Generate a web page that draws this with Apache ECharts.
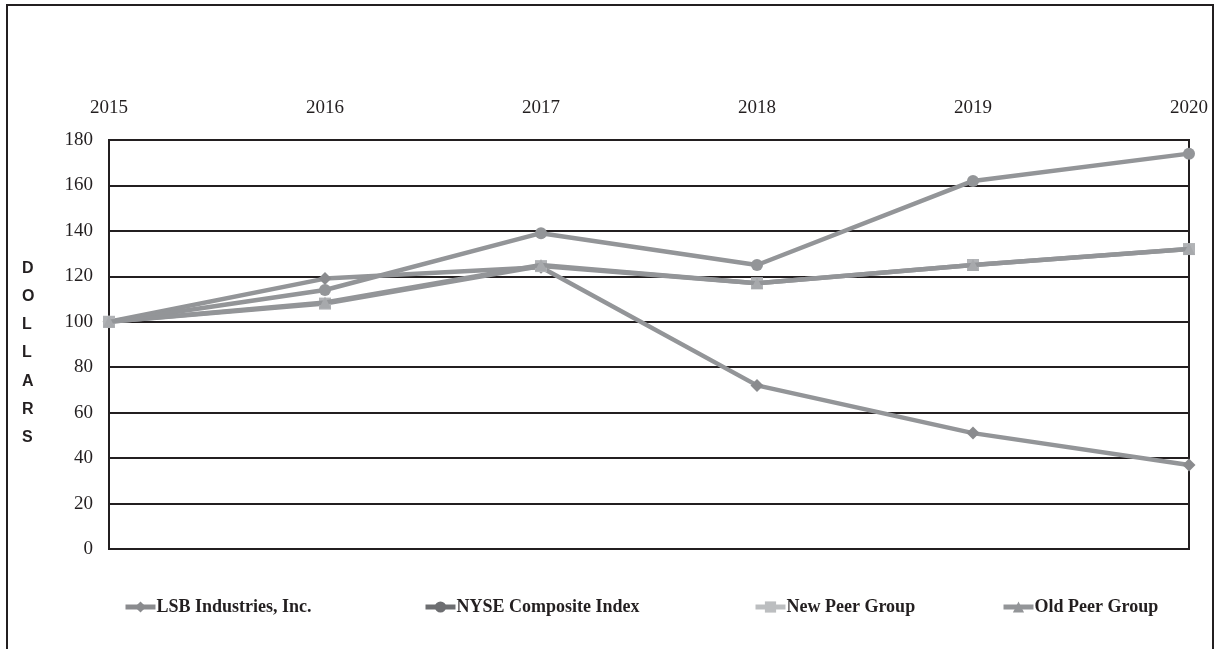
<!DOCTYPE html>
<html>
<head>
<meta charset="utf-8">
<script src="https://cdn.jsdelivr.net/npm/echarts@6/dist/echarts.min.js"></script>
<style>
html,body{margin:0;padding:0;background:#fff;}
#c{width:1217px;height:649px;}
</style>
</head>
<body>
<div id="c"></div>
<script>
var years = ['2015', '2016', '2017', '2018', '2019', '2020'];
var lsb = [100, 119, 124, 72, 51, 37];
var nyse = [100, 114, 139, 125, 162, 174];
var newPeer = [100, 108, 124.5, 117, 125, 132];
var oldPeer = [100, 108.5, 125, 117, 125, 132];
var yTicks = [0, 20, 40, 60, 80, 100, 120, 140, 160, 180];
var names = ['LSB Industries, Inc.', 'NYSE Composite Index', 'New Peer Group', 'Old Peer Group'];

var lineGray = '#939598';
var chart = echarts.init(document.getElementById('c'));

function mkSeries(name, data, symbol, symColor, size, z) {
  return {
    name: name, type: 'line', data: data,
    symbol: symbol, symbolSize: size, showSymbol: true,
    lineStyle: { color: lineGray, width: 4.5 },
    itemStyle: { color: symColor },
    z: z, animation: false
  };
}

function mkLegend(i, left, symColor, lineColor) {
  return {
    left: left, top: 593, itemWidth: 30, itemHeight: 14, itemGap: 0,
    data: [{ name: names[i], itemStyle: { color: symColor }, lineStyle: { color: lineColor, width: 5 } }],
    textStyle: { fontFamily: 'Liberation Serif', fontWeight: 'bold', fontSize: 18, color: '#231f20', padding: [0, 0, 0, -4] },
    selectedMode: false
  };
}

chart.setOption({
  animation: false,
  backgroundColor: '#fff',
  graphic: [
    { type: 'rect', shape: { x: 7, y: 5, width: 1206, height: 700 }, style: { fill: 'none', stroke: '#231f20', lineWidth: 2 }, silent: true },
    { type: 'text', left: 22, top: 254, style: { text: 'D\nO\nL\nL\nA\nR\nS', font: 'bold 16px "Liberation Sans"', fill: '#231f20', lineHeight: 28.3, align: 'center' } }
  ],
  grid: { left: 109, right: 28, top: 140, bottom: 100, show: true, borderColor: '#231f20', borderWidth: 2 },
  legend: [
    mkLegend(0, 118, '#8a8b8e', '#8a8b8e'),
    mkLegend(1, 418, '#6d6e71', '#6d6e71'),
    mkLegend(2, 748, '#bcbec0', '#bcbec0'),
    mkLegend(3, 996, '#939598', '#939598')
  ],
  xAxis: {
    type: 'category', data: years, position: 'top', boundaryGap: false,
    axisLine: { show: false }, axisTick: { show: false },
    axisLabel: { margin: 22, fontFamily: 'Liberation Serif', fontSize: 19, color: '#231f20' },
    splitLine: { show: false }
  },
  yAxis: {
    type: 'value', min: yTicks[0], max: yTicks[yTicks.length - 1], interval: 20,
    axisLine: { show: true, lineStyle: { color: '#231f20', width: 2 } },
    axisTick: { show: false },
    axisLabel: { margin: 16, fontFamily: 'Liberation Serif', fontSize: 19, color: '#231f20' },
    splitLine: { show: true, lineStyle: { color: '#231f20', width: 2 } }
  },
  series: [
    mkSeries(names[0], lsb, 'diamond', '#8a8b8e', 13, 3),
    mkSeries(names[1], nyse, 'circle', '#939598', 12, 4),
    mkSeries(names[2], newPeer, 'rect', '#b1b3b6', 12, 5),
    mkSeries(names[3], oldPeer, 'triangle', '#a7a9ac', 12, 6)
  ]
});
</script>
</body>
</html>
